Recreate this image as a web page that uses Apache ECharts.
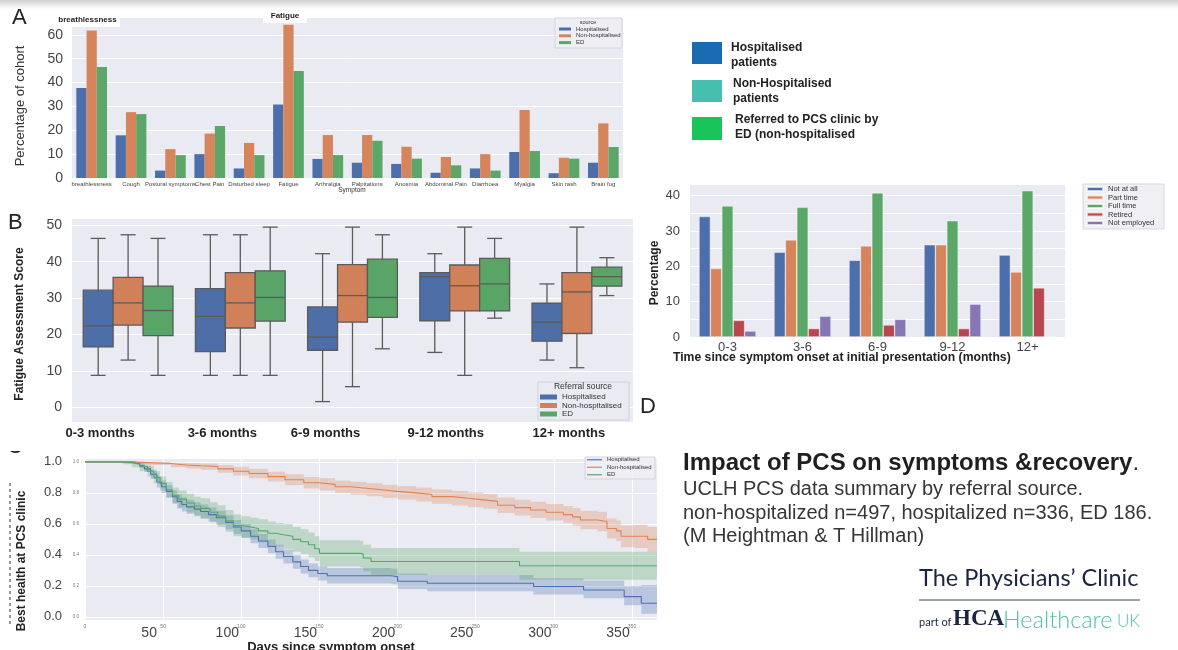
<!DOCTYPE html>
<html>
<head>
<meta charset="utf-8">
<script src="https://cdn.jsdelivr.net/npm/echarts@6/dist/echarts.min.js"></script>
<style>
  html, body { margin: 0; padding: 0; background: #ffffff; }
  #main { width: 1178px; height: 650px; }
</style>
</head>
<body>
<div id="main"></div>
<script>
// ---------- Panel A: symptom prevalence (% of cohort) by referral source ----------
const symptoms = ['breathlessness', 'Cough', 'Postural symptoms', 'Chest Pain', 'Disturbed sleep',
  'Fatigue', 'Arthralgia', 'Palpitations', 'Anosmia', 'Abdominal Pain', 'Diarrhoea',
  'Myalgia', 'Skin rash', 'Brain fog'];
const symptomHospitalised    = [37.7, 17.9, 3.1, 10.0, 4.0, 30.8, 8.0, 6.4, 5.9, 2.2, 4.0, 10.9, 2.0, 6.4];
const symptomNonHospitalised = [61.8, 27.6, 12.1, 18.6, 14.7, 64.2, 18.0, 18.0, 13.1, 8.8, 10.0, 28.5, 8.5, 22.9];
const symptomED              = [46.5, 26.8, 9.6, 21.8, 9.6, 44.9, 9.6, 15.6, 8.1, 5.3, 3.1, 11.3, 8.1, 13.0];

// ---------- Panel B: Fatigue Assessment Score boxes [min, Q1, median, Q3, max] ----------
const onsetGroups = ['0-3 months', '3-6 months', '6-9 months', '9-12 months', '12+ months'];
const fasHospitalised = [
  [8.8, 16.6, 22.4, 32.2, 46.4], [8.8, 15.3, 25.0, 32.6, 47.4], [1.6, 15.7, 19.3, 27.6, 42.2],
  [15.1, 23.8, 35.9, 37.0, 42.2], [13.0, 18.2, 23.4, 28.6, 33.9]];
const fasNonHospitalised = [
  [13.0, 22.6, 28.7, 35.7, 47.4], [8.8, 21.8, 28.7, 37.0, 47.4], [5.7, 23.4, 30.7, 39.2, 49.5],
  [8.8, 26.5, 33.4, 39.1, 49.5], [10.9, 20.3, 31.7, 37.0, 49.5]];
const fasED = [
  [8.8, 19.7, 26.6, 33.3, 46.4], [8.8, 23.7, 30.2, 37.5, 49.5], [16.1, 24.7, 30.2, 40.7, 47.4],
  [24.5, 26.5, 33.9, 40.9, 46.4], [30.7, 33.3, 35.9, 38.5, 41.1]];

// ---------- Panel C: best health at PCS clinic vs days since onset (step curves + 95% bands) ----------
const kmHospDays  = [0, 31, 35, 38, 42, 46, 49, 52, 56, 59, 62, 65, 70, 74, 79, 84, 90, 95, 100, 106, 111, 117, 122, 127, 133, 138, 143, 149, 155, 196, 200, 219, 287, 319, 345, 356, 366];
const kmHospValue = [1.0, 0.99, 0.975, 0.955, 0.92, 0.87, 0.84, 0.81, 0.775, 0.745, 0.725, 0.71, 0.695, 0.68, 0.66, 0.64, 0.61, 0.58, 0.555, 0.52, 0.49, 0.455, 0.42, 0.39, 0.355, 0.325, 0.30, 0.28, 0.265, 0.26, 0.23, 0.217, 0.196, 0.174, 0.131, 0.088, 0.088];
const kmHospLow   = [1.0, 0.985, 0.96, 0.935, 0.89, 0.835, 0.80, 0.77, 0.73, 0.70, 0.68, 0.665, 0.65, 0.635, 0.615, 0.595, 0.565, 0.535, 0.51, 0.475, 0.445, 0.41, 0.375, 0.345, 0.31, 0.28, 0.255, 0.235, 0.215, 0.21, 0.18, 0.165, 0.145, 0.12, 0.075, 0.02, 0.02];
const kmHospHigh  = [1.0, 1.0, 0.99, 0.975, 0.95, 0.905, 0.88, 0.85, 0.815, 0.79, 0.77, 0.755, 0.74, 0.725, 0.705, 0.685, 0.655, 0.625, 0.60, 0.565, 0.535, 0.50, 0.465, 0.435, 0.40, 0.37, 0.345, 0.325, 0.315, 0.31, 0.28, 0.27, 0.25, 0.235, 0.20, 0.205, 0.205];

const kmNonHospDays  = [0, 27, 40, 55, 65, 74, 85, 95, 105, 117, 128, 140, 150, 160, 170, 180, 190, 200, 212, 222, 235, 245, 255, 264, 275, 285, 295, 306, 312, 317, 328, 334, 340, 343, 352, 360, 366];
const kmNonHospValue = [1.0, 0.995, 0.99, 0.98, 0.975, 0.97, 0.955, 0.94, 0.925, 0.905, 0.885, 0.865, 0.855, 0.84, 0.83, 0.82, 0.81, 0.80, 0.79, 0.776, 0.765, 0.755, 0.745, 0.72, 0.705, 0.69, 0.675, 0.66, 0.645, 0.625, 0.615, 0.57, 0.555, 0.52, 0.52, 0.50, 0.50];
const kmNonHospLow   = [1.0, 0.99, 0.98, 0.965, 0.957, 0.95, 0.93, 0.912, 0.895, 0.873, 0.85, 0.828, 0.815, 0.80, 0.788, 0.778, 0.768, 0.757, 0.745, 0.73, 0.718, 0.707, 0.697, 0.67, 0.654, 0.638, 0.622, 0.605, 0.588, 0.566, 0.552, 0.505, 0.488, 0.45, 0.445, 0.42, 0.42];
const kmNonHospHigh  = [1.0, 1.0, 1.0, 0.995, 0.993, 0.99, 0.98, 0.968, 0.955, 0.937, 0.92, 0.902, 0.895, 0.88, 0.872, 0.862, 0.852, 0.843, 0.835, 0.822, 0.812, 0.803, 0.793, 0.77, 0.756, 0.742, 0.728, 0.715, 0.702, 0.684, 0.678, 0.635, 0.622, 0.59, 0.595, 0.58, 0.58];

const kmEDDays  = [0, 24, 30, 35, 40, 44, 48, 52, 56, 60, 65, 70, 74, 80, 85, 90, 95, 100, 106, 111, 117, 122, 127, 133, 138, 143, 147, 150, 176, 178, 183, 278, 366];
const kmEDValue = [1.0, 0.995, 0.985, 0.97, 0.94, 0.90, 0.86, 0.82, 0.785, 0.76, 0.735, 0.715, 0.70, 0.675, 0.65, 0.62, 0.59, 0.58, 0.57, 0.555, 0.54, 0.53, 0.52, 0.50, 0.485, 0.465, 0.44, 0.41, 0.405, 0.38, 0.357, 0.33, 0.33];
const kmEDLow   = [1.0, 0.985, 0.965, 0.94, 0.905, 0.86, 0.815, 0.77, 0.735, 0.705, 0.675, 0.655, 0.635, 0.61, 0.58, 0.55, 0.52, 0.51, 0.50, 0.48, 0.465, 0.455, 0.44, 0.42, 0.405, 0.385, 0.36, 0.325, 0.32, 0.295, 0.27, 0.24, 0.24];
const kmEDHigh  = [1.0, 1.0, 1.0, 0.995, 0.975, 0.94, 0.905, 0.87, 0.835, 0.815, 0.795, 0.775, 0.765, 0.74, 0.72, 0.69, 0.66, 0.65, 0.64, 0.63, 0.615, 0.605, 0.60, 0.58, 0.565, 0.545, 0.52, 0.495, 0.49, 0.465, 0.445, 0.42, 0.42];

// ---------- Panel D: employment status (%) by time since onset ----------
const onsetMonths = ['0-3', '3-6', '6-9', '9-12', '12+'];
const empNotAtAll    = [34.1, 24.0, 21.7, 26.1, 23.2];
const empPartTime    = [19.4, 27.5, 25.8, 26.1, 18.4];
const empFullTime    = [37.1, 36.7, 40.8, 32.9, 41.4];
const empRetired     = [4.7, 2.4, 3.4, 2.4, 13.9];
const empNotEmployed = [1.7, 5.9, 5.0, 9.3, 0];

// ---------- shared styling ----------
const FONT = 'Liberation Sans';
const C_BLUE = '#4C6EAA', C_ORANGE = '#D5845C', C_GREEN = '#5AA768', C_RED = '#B9474F', C_PURPLE = '#8776B5';
const BOX_BLUE = '#4E6EA8', BOX_ORANGE = '#D1815A', BOX_GREEN = '#59A467';
const KM_BLUE = '#4C72B0', KM_ORANGE = '#DD8452', KM_GREEN = '#55A868';
const PLOT_BG = '#EAEAF2';
const TICK = '#444444';

function plotGrid(left, top, width, height) {
  return { left, top, width, height, show: true, backgroundColor: PLOT_BG, borderWidth: 0,
           containLabel: false, outerBoundsMode: 'none' };
}
const whiteSplit = { show: true, lineStyle: { color: '#ffffff', width: 1 } };
const noLine = { show: false };

function catAxis(gridIndex, data, labelOpts) {
  return { type: 'category', gridIndex, position: 'bottom', data, axisLine: noLine, axisTick: noLine, splitLine: noLine,
           axisLabel: Object.assign({ interval: 0, hideOverlap: false, color: TICK, fontFamily: FONT }, labelOpts) };
}
function valAxis(gridIndex, extra, labelOpts) {
  return Object.assign({ type: 'value', gridIndex, axisLine: noLine, axisTick: noLine, splitLine: whiteSplit,
           axisLabel: Object.assign({ color: TICK, fontFamily: FONT, hideOverlap: false }, labelOpts) }, extra);
}

// box-and-whisker drawn from [cat, min, q1, med, q3, max]; slot 0..2 within each category band
function boxSeries(name, rows, slot, fill) {
  return {
    type: 'custom', name, xAxisIndex: 2, yAxisIndex: 2, z: 3,
    encode: { x: 0, y: [1, 2, 3, 4, 5] },
    data: rows.map((r, i) => [i].concat(r)),
    renderItem(params, api) {
      const cat = api.value(0);
      const band = api.size([1, 0])[0];
      const w = band * 0.8 / 3;
      const cx = api.coord([cat, 0])[0] + (slot - 1) * w;
      const y = k => api.coord([cat, api.value(k)])[1];
      const yMin = y(1), yQ1 = y(2), yMed = y(3), yQ3 = y(4), yMax = y(5);
      const ln = { stroke: '#5b5b5b', lineWidth: 1.3 };
      return { type: 'group', children: [
        { type: 'line', shape: { x1: cx, y1: yMax, x2: cx, y2: yQ3 }, style: ln },
        { type: 'line', shape: { x1: cx, y1: yQ1, x2: cx, y2: yMin }, style: ln },
        { type: 'line', shape: { x1: cx - w / 4, y1: yMax, x2: cx + w / 4, y2: yMax }, style: ln },
        { type: 'line', shape: { x1: cx - w / 4, y1: yMin, x2: cx + w / 4, y2: yMin }, style: ln },
        { type: 'rect', shape: { x: cx - w / 2, y: yQ3, width: w, height: yQ1 - yQ3 },
          style: { fill, stroke: '#5b5b5b', lineWidth: 1.3 } },
        { type: 'line', shape: { x1: cx - w / 2, y1: yMed, x2: cx + w / 2, y2: yMed }, style: ln }
      ] };
    }
  };
}

// step-shaped confidence band polygon
function bandSeries(name, days, low, high, fill) {
  return {
    type: 'custom', name, xAxisIndex: 3, yAxisIndex: 3, z: 2, silent: true,
    data: [[days[0], high[0]]],
    renderItem(params, api) {
      const top = [], bottom = [];
      for (let i = 0; i < days.length; i++) {
        const next = i + 1 < days.length ? days[i + 1] : days[i];
        top.push(api.coord([days[i], high[i]]), api.coord([next, high[i]]));
        bottom.push(api.coord([days[i], low[i]]), api.coord([next, low[i]]));
      }
      return { type: 'polygon', shape: { points: top.concat(bottom.reverse()) }, style: { fill } };
    }
  };
}
function stepSeries(name, days, values, color) {
  return { type: 'line', name, xAxisIndex: 3, yAxisIndex: 3, step: 'end', symbol: 'none', z: 4,
           data: days.map((d, i) => [d, values[i]]), lineStyle: { color, width: 1.1 }, itemStyle: { color } };
}
function barSeries(name, values, color, axisIndex, gap, extra) {
  return Object.assign({ type: 'bar', name, xAxisIndex: axisIndex, yAxisIndex: axisIndex, data: values,
           barGap: '0%', barCategoryGap: gap, itemStyle: { color } }, extra || {});
}

function txt(x, y, text, size, opts) {
  const o = opts || {};
  const align = o.align || 'left';
  return {
    type: 'text', x, y, rotation: o.rotation || 0, z: o.z || 10,
    style: {
      text, fontSize: size, fontFamily: o.family || FONT, fontWeight: o.weight || 'normal',
      fill: o.color || '#222', align, textAlign: align, verticalAlign: 'middle', textVerticalAlign: 'middle',
      rich: o.rich
    }
  };
}
function box(x, y, w, h, fill, stroke, z) {
  return { type: 'rect', z: z || 1, shape: { x, y, width: w, height: h },
           style: { fill, stroke: stroke || null, lineWidth: stroke ? 1 : 0 } };
}
function legendCfg(names, colors, left, top, iw, ih, fs, lh, gap) {
  return {
    orient: 'vertical', left, top, padding: 0, icon: 'rect', itemWidth: iw, itemHeight: ih, itemGap: gap,
    selectedMode: false,
    data: names.map((n, i) => ({ name: n, itemStyle: { color: colors[i] } })),
    textStyle: { fontSize: fs, lineHeight: lh, color: '#333', fontFamily: FONT }
  };
}

const sources = ['Hospitalised', 'Non-hospitalised', 'ED'];
const employment = ['Not at all', 'Part time', 'Full time', 'Retired', 'Not employed'];
const bShift = [56, 36, 54, 38, 16];
const kmTick = v => (v >= 0 && Math.abs(v * 5 - Math.round(v * 5)) < 1e-6 ? v.toFixed(1) : '');

const option = {
  animation: false,
  textStyle: { fontFamily: FONT },
  grid: [
    plotGrid(72, 17, 551, 161),    // A
    plotGrid(690, 184, 375, 153),  // D
    plotGrid(72, 218, 561, 204),   // B
    plotGrid(85, 458, 572, 162)    // C
  ],
  xAxis: [
    catAxis(0, symptoms, { fontSize: 6, margin: 3, color: '#444' }),
    catAxis(1, onsetMonths, { fontSize: 13, margin: 4 }),
    catAxis(2, onsetGroups, {
      margin: 5, fontSize: 13, fontWeight: 'bold', color: '#222',
      formatter: (v, i) => '{s' + i + '|' + v + '}',
      rich: Object.fromEntries(bShift.map((p, i) => ['s' + i,
        { fontSize: 13, fontWeight: 'bold', color: '#222', fontFamily: FONT, padding: [0, p, 0, 0] }]))
    }),
    valAxis(3, { min: 0, max: 366, interval: 50, position: 'bottom', splitLine: whiteSplit },
      { fontSize: 5, margin: 4, color: '#777', formatter: v => (v % 50 === 0 ? String(v) : '') }),
    valAxis(3, { min: 0, max: 366, interval: 50, position: 'bottom', offset: 0, splitLine: noLine },
      { fontSize: 14, margin: 6, color: TICK, padding: [0, 28, 0, 0],
        formatter: v => (v % 50 === 0 && v > 0 ? String(v) : '') })
  ],
  yAxis: [
    valAxis(0, { min: 0, max: 67.5, interval: 10, position: 'left' },
      { fontSize: 14, margin: 9, formatter: v => (v % 10 === 0 ? String(v) : '') }),
    valAxis(1, { min: 0, max: 43.3, interval: 5, position: 'left' },
      { fontSize: 13, margin: 10, formatter: v => (v % 10 === 0 ? String(v) : '') }),
    valAxis(2, { min: -4, max: 52, position: 'left' },
      { fontSize: 14, margin: 10, formatter: v => (v % 10 === 0 && v >= 0 ? String(v) : '') }),
    valAxis(3, { min: -0.02, max: 1.025, position: 'left' },
      { fontSize: 13, margin: 23, padding: [6, 0, 0, 0], formatter: kmTick }),
    valAxis(3, { min: -0.02, max: 1.025, position: 'left', offset: 0, splitLine: noLine },
      { fontSize: 4.5, margin: 6, color: '#777', formatter: kmTick })
  ],
  legend: [
    legendCfg(sources, [C_BLUE, C_ORANGE, C_GREEN], 559, 26, 12, 3, 6, 6, 0.8),
    legendCfg(employment, [C_BLUE, C_ORANGE, C_GREEN, C_RED, C_PURPLE], 1086, 185, 16, 4, 7.5, 8, 0.5),
    legendCfg(sources, [BOX_BLUE, BOX_ORANGE, BOX_GREEN], 540, 393, 17, 5, 8, 8, 0.5),
    legendCfg(sources, [KM_BLUE, KM_ORANGE, KM_GREEN], 587, 456.5, 15, 1.2, 6, 6.5, 1)
  ],
  series: [
    // A
    barSeries('Hospitalised', symptomHospitalised, C_BLUE, 0, '22%'),
    barSeries('Non-hospitalised', symptomNonHospitalised, C_ORANGE, 0, '22%'),
    barSeries('ED', symptomED, C_GREEN, 0, '22%'),
    // D
    ...[[employment[0], empNotAtAll, C_BLUE], [employment[1], empPartTime, C_ORANGE],
        [employment[2], empFullTime, C_GREEN], [employment[3], empRetired, C_RED],
        [employment[4], empNotEmployed, C_PURPLE]].map(([n, v, c]) =>
      barSeries(n, v, c, 1, '24%', { itemStyle: { color: c, borderColor: 'rgba(255,255,255,0.7)', borderWidth: 0.6 } })),
    // B
    boxSeries('Hospitalised', fasHospitalised, 0, BOX_BLUE),
    boxSeries('Non-hospitalised', fasNonHospitalised, 1, BOX_ORANGE),
    boxSeries('ED', fasED, 2, BOX_GREEN),
    // C
    bandSeries('Hospitalised CI', kmHospDays, kmHospLow, kmHospHigh, 'rgba(76,114,176,0.3)'),
    bandSeries('Non-hospitalised CI', kmNonHospDays, kmNonHospLow, kmNonHospHigh, 'rgba(221,132,82,0.3)'),
    bandSeries('ED CI', kmEDDays, kmEDLow, kmEDHigh, 'rgba(85,168,104,0.3)'),
    stepSeries('Hospitalised', kmHospDays, kmHospValue, KM_BLUE),
    stepSeries('Non-hospitalised', kmNonHospDays, kmNonHospValue, KM_ORANGE),
    stepSeries('ED', kmEDDays, kmEDValue, KM_GREEN)
  ],
  graphic: { elements: [
    // slide top shading
    { type: 'rect', z: 0, shape: { x: 0, y: 0, width: 1178, height: 9 },
      style: { fill: new echarts.graphic.LinearGradient(0, 0, 0, 1,
        [{ offset: 0, color: '#d0d0d0' }, { offset: 1, color: '#ffffff' }]) } },

    // panel letters
    txt(12, 18, 'A', 22),
    txt(8, 223, 'B', 22),
    txt(640, 407, 'D', 22),
    txt(7, 447, 'C', 22),
    box(0, 425, 40, 26, '#ffffff', null, 11),
    { type: 'line', z: 10, shape: { x1: 10, y1: 483, x2: 10, y2: 626 },
      style: { stroke: '#555', lineWidth: 1.2, lineDash: [3, 3] } },

    // panel A annotations and captions
    box(55, 12, 65, 15, '#ffffff', null, 10),
    txt(87.5, 19.5, 'breathlessness', 8, { align: 'center', weight: 'bold', z: 11 }),
    box(263, 9, 44, 14, '#ffffff', null, 10),
    txt(285, 16, 'Fatigue', 8, { align: 'center', weight: 'bold', z: 11 }),
    txt(20, 106, 'Percentage of cohort', 13, { align: 'center', rotation: Math.PI / 2, color: '#333' }),
    txt(352, 190.5, 'Symptom', 6.5, { align: 'center', color: '#333' }),
    box(555, 18, 67, 30, 'rgba(238,238,244,0.9)', '#d4d4dc', 1),
    txt(588, 22.5, 'source', 5.5, { align: 'center', color: '#333' }),

    // referral source key
    box(692, 42, 30, 22, '#1B6BB2'),
    box(692, 80, 30, 22, '#46BEB0'),
    box(692, 117, 30, 23, '#19C45A'),
    txt(731, 48, 'Hospitalised', 12, { weight: 'bold' }),
    txt(731, 63, 'patients', 12, { weight: 'bold' }),
    txt(733, 84, 'Non-Hospitalised', 12, { weight: 'bold' }),
    txt(733, 99, 'patients', 12, { weight: 'bold' }),
    txt(735, 120, 'Referred to PCS clinic by', 12, { weight: 'bold' }),
    txt(735, 135, 'ED (non-hospitalised', 12, { weight: 'bold' }),

    // panel D captions
    box(1083, 184, 81, 45, '#EFEFF4', '#d8d8e0', 1),
    txt(655, 273, 'Percentage', 12, { align: 'center', rotation: Math.PI / 2, weight: 'bold' }),
    txt(673, 358, 'Time since symptom onset at initial presentation (months)', 12.2, { weight: 'bold' }),

    // panel B captions
    txt(20, 324, 'Fatigue Assessment Score', 12, { align: 'center', rotation: Math.PI / 2, weight: 'bold' }),
    box(538, 382, 91, 38, 'rgba(234,234,242,0.9)', '#d0d0d8', 1),
    txt(583, 387, 'Referral source', 8.5, { align: 'center', color: '#333' }),

    // panel C captions
    txt(22, 561, 'Best health at PCS clinic', 12, { align: 'center', rotation: Math.PI / 2, weight: 'bold' }),
    txt(331, 647, 'Days since symptom onset', 13, { align: 'center', weight: 'bold' }),
    box(585, 457, 70, 22, 'rgba(238,238,244,0.9)', '#d4d4dc', 1),

    // summary text
    txt(683, 463, '{b|Impact of PCS on symptoms &recovery}{n|.}', 24, {
      rich: { b: { fontSize: 24, fontWeight: 'bold', fill: '#1f1f1f', fontFamily: FONT },
              n: { fontSize: 24, fontWeight: 'normal', fill: '#333', fontFamily: FONT } } }),
    txt(683, 489, 'UCLH PCS data summary by referral source.', 20, { color: '#363636' }),
    txt(683, 513, 'non-hospitalized n=497, hospitalized n=336, ED 186.', 20, { color: '#363636' }),
    txt(683, 536, '(M Heightman & T Hillman)', 20, { color: '#363636' }),

    // clinic mark
    txt(919, 578, 'The Physicians\u2019 Clinic', 23.5, { family: 'Lato', weight: 'normal', color: '#1b2540' }),
    { type: 'line', z: 10, shape: { x1: 919, y1: 600, x2: 1140, y2: 600 }, style: { stroke: '#3a4256', lineWidth: 1 } },
    txt(919, 622, 'part of', 11, { family: 'Lato', color: '#1b2540' }),
    txt(953, 619, 'HCA', 23, { family: 'Liberation Serif', weight: 'bold', color: '#1b2540' }),
    txt(1003, 620, 'Healthcare', 23.5, { family: 'Lato', weight: 300, color: '#4CC1AE' }),
    txt(1117, 622, 'UK', 17, { family: 'Lato', weight: 300, color: '#4CC1AE' })
  ] }
};

const chart = echarts.init(document.getElementById('main'), null, { renderer: 'canvas' });
chart.setOption(option);
</script>
</body>
</html>
